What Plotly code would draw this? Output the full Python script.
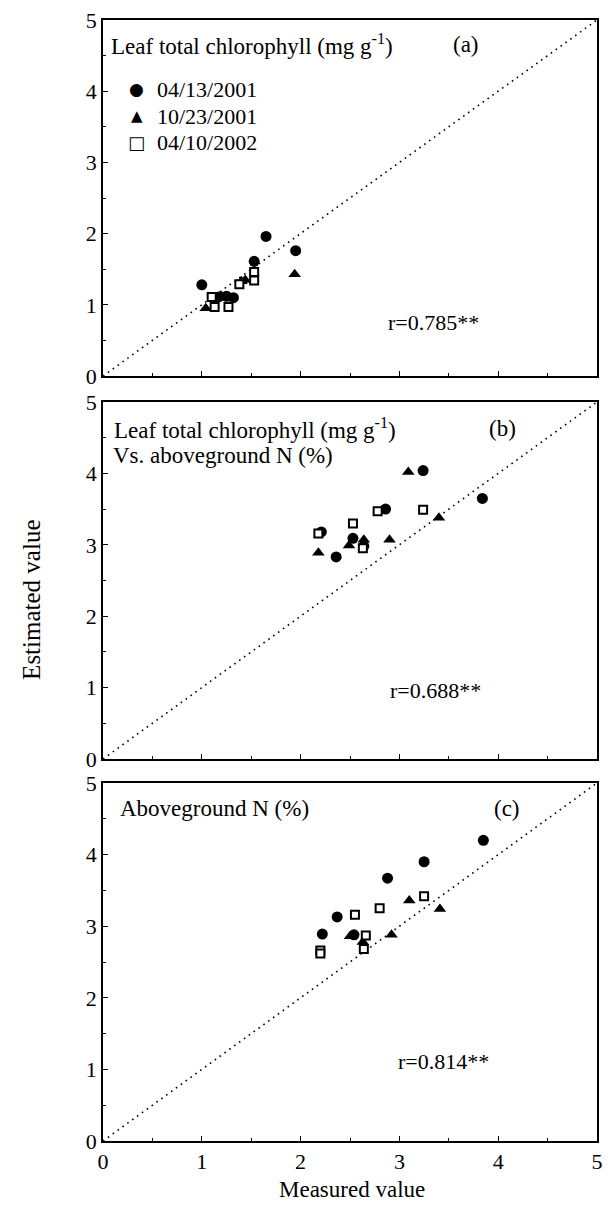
import plotly.graph_objects as go

# ---------------- data ----------------
series_names = ["04/13/2001", "10/23/2001", "04/10/2002"]
legend_glyphs = ["\u25CF", "\u25B2", "\u25A1"]

# Panel (a) Leaf total chlorophyll
a_circle_x = [1.00, 1.65, 1.95, 1.53, 1.17, 1.25, 1.32]
a_circle_y = [1.28, 1.96, 1.76, 1.61, 1.11, 1.12, 1.10]
a_tri_x = [1.04, 1.94, 1.44, 1.40, 1.20]
a_tri_y = [0.95, 1.43, 1.35, 1.33, 1.12]
a_sq_x = [1.13, 1.27, 1.38, 1.53, 1.53, 1.10]
a_sq_y = [0.97, 0.97, 1.29, 1.46, 1.34, 1.11]

# Panel (b) Leaf total chlorophyll vs aboveground N
b_circle_x = [3.24, 3.84, 2.86, 2.21, 2.36, 2.53, 2.64]
b_circle_y = [4.04, 3.65, 3.50, 3.18, 2.83, 3.09, 2.98]
b_tri_x = [3.09, 3.40, 2.18, 2.90, 2.49, 2.64]
b_tri_y = [4.02, 3.38, 2.89, 3.07, 2.99, 3.07]
b_sq_x = [2.78, 3.24, 2.53, 2.18, 2.63]
b_sq_y = [3.47, 3.49, 3.30, 3.16, 2.95]

# Panel (c) Aboveground N
c_circle_x = [3.85, 3.25, 2.88, 2.37, 2.22, 2.54]
c_circle_y = [4.20, 3.90, 3.67, 3.13, 2.89, 2.88]
c_tri_x = [3.10, 3.41, 2.50, 2.92, 2.63]
c_tri_y = [3.36, 3.24, 2.86, 2.88, 2.78]
c_sq_x = [3.25, 2.80, 2.55, 2.66, 2.20, 2.20, 2.64]
c_sq_y = [3.42, 3.25, 3.16, 2.87, 2.66, 2.62, 2.68]

one_to_one = [0, 5]
tick_vals = [0, 1, 2, 3, 4, 5]
tick_text = ["0", "1", "2", "3", "4", "5"]

panel_titles = [["Leaf total chlorophyll (mg g<sup>-1</sup>)"],
                ["Leaf total chlorophyll (mg g<sup>-1</sup>)", "Vs. aboveground N (%)"],
                ["Aboveground N (%)"]]
panel_letters = ["(a)", "(b)", "(c)"]
r_texts = ["r=0.785**", "r=0.688**", "r=0.814**"]

# ---------------- layout geometry ----------------
W, H = 611, 1205
ML, MR, MT, MB = 103, 8, 20, 64
PH = H - MT - MB
panel_px = [(20, 376), (402, 759), (783, 1141)]

def py(p):
    return 1 - (p - MT) / PH

def px(p):
    return (p - ML) / (W - ML - MR)

FONT = "Liberation Serif, Times New Roman, serif"

fig = go.Figure()

panels = [
    (a_circle_x, a_circle_y, a_tri_x, a_tri_y, a_sq_x, a_sq_y),
    (b_circle_x, b_circle_y, b_tri_x, b_tri_y, b_sq_x, b_sq_y),
    (c_circle_x, c_circle_y, c_tri_x, c_tri_y, c_sq_x, c_sq_y),
]

for i, (cx, cy, tx, ty, sx, sy) in enumerate(panels):
    xa = "x" if i == 0 else f"x{i+1}"
    ya = "y" if i == 0 else f"y{i+1}"
    fig.add_trace(go.Scatter(x=one_to_one, y=one_to_one, mode="lines",
                             line=dict(color="black", width=1.6, dash="1.6px,4.4px"),
                             showlegend=False, xaxis=xa, yaxis=ya, hoverinfo="skip"))
    fig.add_trace(go.Scatter(x=cx, y=cy, mode="markers", name=series_names[0],
                             marker=dict(symbol="circle", size=11, color="black"),
                             showlegend=False, xaxis=xa, yaxis=ya))
    fig.add_trace(go.Scatter(x=tx, y=ty, mode="markers", name=series_names[1],
                             marker=dict(symbol="triangle-up", size=11, color="black"),
                             showlegend=False, xaxis=xa, yaxis=ya))
    fig.add_trace(go.Scatter(x=sx, y=sy, mode="markers", name=series_names[2],
                             marker=dict(symbol="square", size=8, color="white",
                                         line=dict(color="black", width=2)),
                             showlegend=False, xaxis=xa, yaxis=ya))

axis_common = dict(range=[0, 5], tickvals=tick_vals, ticktext=tick_text,
                   showgrid=False, zeroline=False, showline=True, linecolor="black",
                   linewidth=1.5, mirror=True, ticks="inside", ticklen=5, tickwidth=1.3,
                   tickcolor="black", ticklabeloverflow="allow",
                   minor=dict(dtick=0.5, ticks="inside", ticklen=3, tickwidth=1.2,
                              tickcolor="black", showgrid=False),
                   tickfont=dict(family=FONT, size=22, color="black"))

layout_axes = {}
for i, (top, bot) in enumerate(panel_px):
    xk = "xaxis" if i == 0 else f"xaxis{i+1}"
    yk = "yaxis" if i == 0 else f"yaxis{i+1}"
    xa = "x" if i == 0 else f"x{i+1}"
    ya = "y" if i == 0 else f"y{i+1}"
    layout_axes[xk] = dict(axis_common, domain=[0, 1], anchor=ya,
                           showticklabels=(i == 2))
    layout_axes[yk] = dict(axis_common, domain=[py(bot), py(top)], anchor=xa)

fig.update_layout(**layout_axes)

annotations = []
title_pos = [[(0.012, 0.93)], [(0.018, 0.925), (0.016, 0.85)], [(0.03, 0.93)]]
letter_pos = [(0.734, 0.93), (0.808, 0.925), (0.818, 0.93)]
r_pos = [(0.67, 0.149), (0.674, 0.193), (0.69, 0.222)]
for i in range(3):
    xr = "x domain" if i == 0 else f"x{i+1} domain"
    yr = "y domain" if i == 0 else f"y{i+1} domain"
    for txt, (ax, ay) in zip(panel_titles[i], title_pos[i]):
        annotations.append(dict(text=txt, xref=xr, yref=yr, x=ax, y=ay,
                                xanchor="left", yanchor="middle", showarrow=False,
                                font=dict(family=FONT, size=23, color="black")))
    annotations.append(dict(text=panel_letters[i], xref=xr, yref=yr,
                            x=letter_pos[i][0], y=letter_pos[i][1],
                            xanchor="center", yanchor="middle", showarrow=False,
                            font=dict(family=FONT, size=23, color="black")))
    annotations.append(dict(text=r_texts[i], xref=xr, yref=yr,
                            x=r_pos[i][0], y=r_pos[i][1],
                            xanchor="center", yanchor="middle", showarrow=False,
                            font=dict(family=FONT, size=22, color="black")))

# legend (panel a) as text rows: glyph + date
legend_rows_px = [89, 116, 143]
glyph_sizes = [17, 15, 18]
for name, glyph, gs, ry in zip(series_names, legend_glyphs, glyph_sizes, legend_rows_px):
    annotations.append(dict(text=glyph, xref="paper", yref="paper",
                            x=px(137), y=py(ry), xanchor="center", yanchor="middle",
                            showarrow=False,
                            font=dict(family="DejaVu Sans", size=gs, color="black")))
    annotations.append(dict(text=name, xref="paper", yref="paper",
                            x=px(156), y=py(ry), xanchor="left", yanchor="middle",
                            showarrow=False,
                            font=dict(family=FONT, size=22, color="black")))

annotations.append(dict(text="Estimated value", xref="paper", yref="paper",
                        x=px(30), y=py(600), textangle=-90,
                        xanchor="center", yanchor="middle", showarrow=False,
                        font=dict(family=FONT, size=25, color="black")))
annotations.append(dict(text="Measured value", xref="paper", yref="paper",
                        x=px(355), y=py(1189),
                        xanchor="center", yanchor="middle", showarrow=False,
                        font=dict(family=FONT, size=23, color="black")))

fig.update_layout(
    width=W, height=H,
    margin=dict(l=ML, r=MR, t=MT, b=MB),
    paper_bgcolor="white", plot_bgcolor="white",
    annotations=annotations,
    showlegend=False,
)

fig.write_html("out.html", config={"displayModeBar": False},
               post_script="document.body.style.margin='0px';")
